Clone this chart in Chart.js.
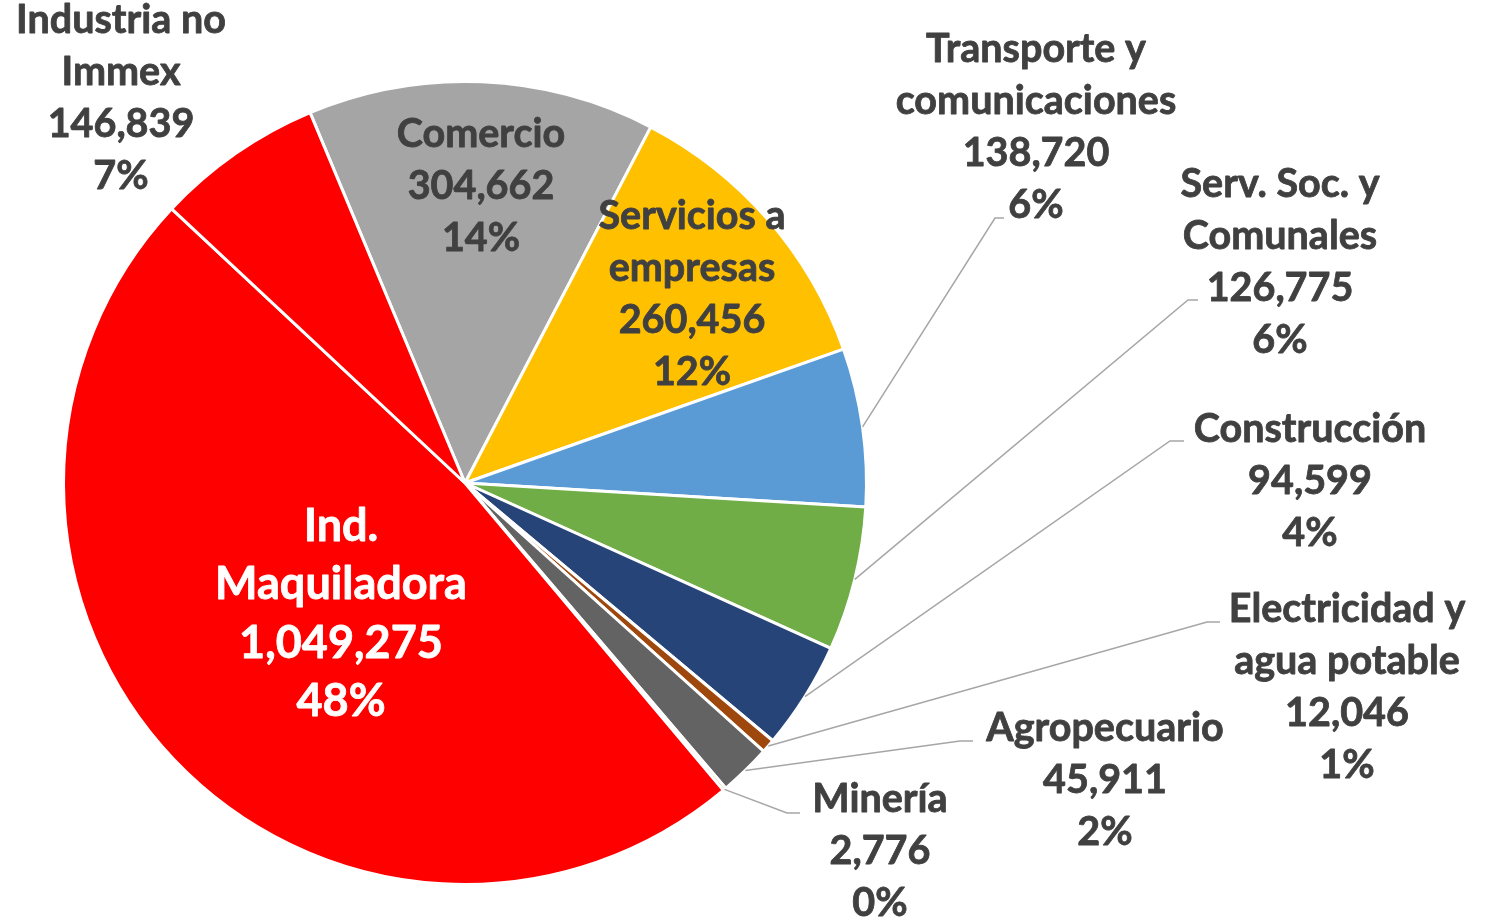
<!DOCTYPE html>
<html><head><meta charset="utf-8">
<script src="https://cdn.jsdelivr.net/npm/chart.js@4.4.0/dist/chart.umd.min.js"></script>
<style>html,body{margin:0;padding:0;background:#fff;overflow:hidden}#wrap{width:1498px;height:917px;position:relative}</style>
</head><body><div id="wrap"><canvas id="c" width="1498" height="917"></canvas></div>
<script>
// ---- data ----
const categories = ["Comercio","Servicios a empresas","Transporte y comunicaciones","Serv. Soc. y Comunales","Construcción","Electricidad y agua potable","Agropecuario","Minería","Ind. Maquiladora","Industria no Immex"];
const categoryLines = [["Comercio"],["Servicios a","empresas"],["Transporte y","comunicaciones"],["Serv. Soc. y","Comunales"],["Construcción"],["Electricidad y","agua potable"],["Agropecuario"],["Minería"],["Ind.","Maquiladora"],["Industria no","Immex"]];
const values = [304662,260456,138720,126775,94599,12046,45911,2776,1049275,146839];
const colors = ["#a5a5a5","#ffc000","#5b9bd5","#70ad47","#264478","#9e480e","#636363","#997300","#ff0000","#ff0000"];

// ---- label layout (positions/styles) ----
const TXT = "#404040";
const labelLayout = [
  {x:481, y:134},
  {x:692, y:216},
  {x:1036, y:49, elbow:[995,218], end:[1004,218]},
  {x:1280, y:184, elbow:[1188,300], end:[1198,300]},
  {x:1310, y:429, elbow:[1170,441], end:[1184,441]},
  {x:1347, y:609, elbow:[1207,622], end:[1220,622]},
  {x:1105, y:728, elbow:[960,741], end:[973,741]},
  {x:880, y:799, elbow:[787,813], end:[800,813]},
  {x:341, y:526, size:45, lh:58.5, color:"#ffffff"},
  {x:121, y:20}
];

const total = values.reduce((a,b)=>a+b,0);

const labelPlugin = {
  id:'pieLabels',
  afterDatasetsDraw(chart){
    const ctx = chart.ctx;
    const meta = chart.getDatasetMeta(0);
    ctx.save();
    meta.data.forEach((arc,i)=>{
      const L = labelLayout[i];
      if(L.elbow){
        const p = arc.getProps(['x','y','startAngle','endAngle','outerRadius'], true);
        const mid = (p.startAngle+p.endAngle)/2;
        ctx.beginPath();
        ctx.moveTo(p.x+Math.cos(mid)*p.outerRadius, p.y+Math.sin(mid)*p.outerRadius);
        ctx.lineTo(L.elbow[0], L.elbow[1]);
        ctx.lineTo(L.end[0], L.end[1]);
        ctx.strokeStyle = "#a6a6a6";
        ctx.lineWidth = 1.5;
        ctx.stroke();
      }
    });
    meta.data.forEach((arc,i)=>{
      const L = labelLayout[i];
      const size = L.size||39.5, lh = L.lh||52;
      const lines = categoryLines[i].concat([values[i].toLocaleString('en-US'), Math.round(values[i]/total*100)+"%"]);
      ctx.font = "bold "+size+"px Lato";
      ctx.fillStyle = L.color||TXT;
      ctx.strokeStyle = L.color||TXT;
      ctx.lineWidth = 0.8;
      ctx.lineJoin = "round";
      ctx.textAlign = "center";
      ctx.textBaseline = "middle";
      lines.forEach((t,k)=>{ctx.fillText(t, L.x, L.y+k*lh); ctx.strokeText(t, L.x, L.y+k*lh);});
    });
    ctx.restore();
  }
};

new Chart(document.getElementById('c'), {
  type:'pie',
  data:{labels:categories, datasets:[{data:values, backgroundColor:colors, borderColor:"#ffffff", borderWidth:3}]},
  options:{
    responsive:false, animation:false, rotation:-22.7,
    layout:{padding:{left:62, top:80, right:630, bottom:31}},
    plugins:{legend:{display:false}, tooltip:{enabled:false}}
  },
  plugins:[labelPlugin]
});
</script></body></html>
